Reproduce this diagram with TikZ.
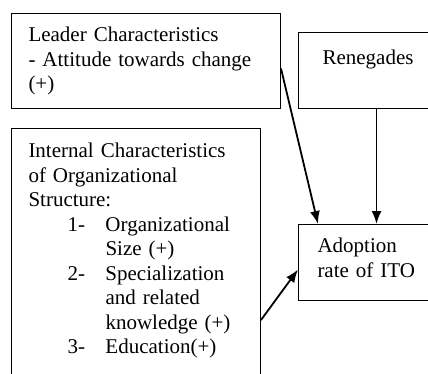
\documentclass[tikz,border=0pt]{standalone}
\usepackage{fontspec}
\setmainfont{Liberation Serif}
\usetikzlibrary{arrows.meta}
% list lines inside the structure box
\newcommand{\numitem}[1]{\hspace*{39pt}\makebox[38pt][l]{#1}}
\newcommand{\itemcont}{\hspace*{77pt}}
\tikzset{
  box/.style={draw, line width=1pt, anchor=north west, align=left,
    inner xsep=17pt, inner ysep=14pt, text height=14pt,
    font=\fontsize{21}{24.5}\selectfont},
  arr/.style={-{Latex[length=13pt,width=10pt]}, line width=1.8pt}
}
\begin{document}
\begin{tikzpicture}[x=1pt,y=-1pt]
  \path[use as bounding box,clip] (0,0) rectangle (428,373);
  \node[box, text width=235pt, text depth=53pt] (leader) at (11,13)
    {Leader Characteristics\\- Attitude towards change\\(+)};
  \node[box, text width=105pt, align=center, text height=17.5pt, text depth=30.5pt] (rene) at (298,32)
    {Renegades};
  \node[box, inner xsep=19pt, text width=101pt, text depth=34pt] (adopt) at (298,224)
    {Adoption\\rate of ITO};
  \node[box, inner ysep=15pt, text width=215pt, text depth=300pt] (struct) at (11,128)
    {Internal Characteristics\\of Organizational\\Structure:\\
     \numitem{1-}Organizational\\\itemcont Size (+)\\
     \numitem{2-}Specialization\\\itemcont and related\\\itemcont knowledge (+)\\
     \numitem{3-}Education(+)};
  \draw[arr] ([yshift=-7.5pt]leader.east) -- ([xshift=20pt]adopt.north west);
  \draw[arr] ([xshift=8.5pt]rene.south) -- ([xshift=8.5pt]adopt.north);
  \draw[arr] ([yshift=-192pt]struct.north east) -- ([yshift=-7pt]adopt.west);
\end{tikzpicture}
\end{document}
